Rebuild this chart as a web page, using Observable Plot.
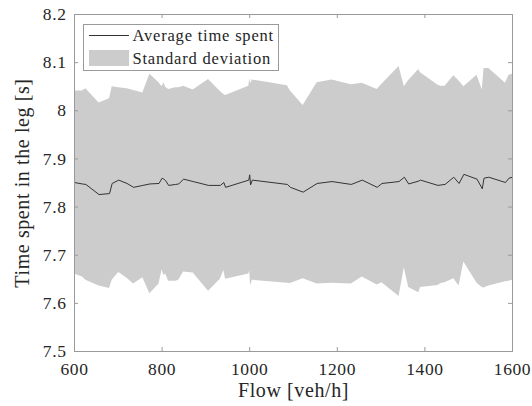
<!DOCTYPE html>
<html>
<head>
<meta charset="utf-8">
<script src="https://cdn.jsdelivr.net/npm/d3@7"></script>
<script src="https://cdn.jsdelivr.net/npm/@observablehq/plot@0.6"></script>
<style>
  html, body { margin: 0; padding: 0; background: #fff; }
  #wrap { position: relative; width: 532px; height: 406px; }
  #chart svg, #chart svg text {
    font-family: "Liberation Serif", "DejaVu Serif", "Noto Serif", "Tinos", "FreeSerif", "Nimbus Roman",
      "Times New Roman", "Noto Serif CJK SC", "Noto Serif CJK JP", serif !important;
  }
  #legend {
    position: absolute; left: 83px; top: 24px; width: 196px; height: 47px;
    box-sizing: border-box; border: 1px solid #9a9a9a; background: #fff;
    font-size: 16.5px; letter-spacing: 0.8px; color: #262626;
  }
  #legend svg { position: absolute; left: 0; top: 0; overflow: visible; }
  #legend svg text {
    font-family: "Liberation Serif", "DejaVu Serif", "Noto Serif", "Tinos", "FreeSerif", "Nimbus Roman",
      "Times New Roman", "Noto Serif CJK SC", "Noto Serif CJK JP", serif;
  }
</style>
</head>
<body>
<div id="wrap">
  <div id="chart"></div>
  <div id="legend"></div>
</div>
<script>
// Traffic flow levels (veh/h) at which the leg was simulated
const flow = [
  600, 618, 626, 656, 680, 686, 701, 720, 735, 756, 772, 793, 800, 804, 808, 815,
  831, 838, 849, 871, 906, 933, 941, 945, 998, 1000, 1002, 1006, 1086, 1093, 1122,
  1154, 1188, 1232, 1257, 1291, 1302, 1341, 1353, 1363, 1386, 1390, 1430, 1437,
  1446, 1466, 1478, 1489, 1519, 1531, 1535, 1546, 1584, 1592, 1600
];
// Average time spent in the leg (s)
const meanTime = [
  7.851, 7.848, 7.847, 7.826, 7.828, 7.849, 7.856, 7.849, 7.841, 7.845, 7.848, 7.849, 7.860, 7.858, 7.855, 7.845,
  7.847, 7.848, 7.858, 7.853, 7.845, 7.845, 7.851, 7.841, 7.856, 7.867, 7.846, 7.856, 7.847, 7.841, 7.831,
  7.849, 7.853, 7.847, 7.856, 7.841, 7.849, 7.853, 7.862, 7.848, 7.854, 7.856, 7.845, 7.846,
  7.847, 7.862, 7.849, 7.868, 7.858, 7.838, 7.860, 7.862, 7.851, 7.860, 7.862
];
// Standard deviation of the time spent (s)
const stdTime = [
  0.190, 0.193, 0.199, 0.190, 0.197, 0.201, 0.192, 0.197, 0.201, 0.192, 0.228, 0.209, 0.190, 0.200, 0.194, 0.199,
  0.201, 0.200, 0.193, 0.190, 0.220, 0.195, 0.183, 0.191, 0.195, 0.200, 0.210, 0.208, 0.205, 0.200, 0.180,
  0.209, 0.211, 0.207, 0.201, 0.203, 0.206, 0.239, 0.188, 0.215, 0.232, 0.223, 0.208, 0.205,
  0.204, 0.211, 0.213, 0.182, 0.216, 0.205, 0.228, 0.226, 0.206, 0.214, 0.214
];

const xTicks = [600, 800, 1000, 1200, 1400, 1600];
const xTickLabels = ["600", "800", "1000", "1200", "1400", "1600"];
const yTicks = [7.5, 7.6, 7.7, 7.8, 7.9, 8.0, 8.1, 8.2];
const yTickLabels = ["7.5", "7.6", "7.7", "7.8", "7.9", "8", "8.1", "8.2"];
const xLabel = "Flow [veh/h]";
const yLabel = "Time spent in the leg [s]";
const seriesNames = ["Average time spent", "Standard deviation"];

const rows = flow.map((f, i) => ({flow: f, mean: meanTime[i], std: stdTime[i]}));

const W = 532, H = 406;
const mL = 74, mR = 20, mT = 14, mB = 55;
const innerW = W - mL - mR, innerH = H - mT - mB;
const tickLen = 4;
const axisGray = "#9a9a9a";
const bandFill = "#cccccc";
const lineColor = "#333333";

const chart = Plot.plot({
  width: W,
  height: H,
  marginLeft: mL,
  marginRight: mR,
  marginTop: mT,
  marginBottom: mB,
  style: {
    fontSize: "17.5px",
    letterSpacing: "0.6px",
    color: "#262626",
    background: "#fff",
    overflow: "visible"
  },
  x: {domain: [600, 1600]},
  y: {domain: [7.5, 8.2]},
  marks: [
    Plot.areaY(rows, {x: "flow", y1: d => d.mean - d.std, y2: d => d.mean + d.std, fill: bandFill}),
    Plot.lineY(rows, {x: "flow", y: "mean", stroke: lineColor, strokeWidth: 1}),
    Plot.frame({stroke: axisGray, strokeWidth: 1}),
    // inward tick marks on all four sides
    Plot.tickX(xTicks, {x: d => d, stroke: axisGray, insetTop: innerH - tickLen}),
    Plot.tickX(xTicks, {x: d => d, stroke: axisGray, insetBottom: innerH - tickLen}),
    Plot.tickY(yTicks, {y: d => d, stroke: axisGray, insetRight: innerW - tickLen}),
    Plot.tickY(yTicks, {y: d => d, stroke: axisGray, insetLeft: innerW - tickLen}),
    Plot.axisX({ticks: xTicks, tickSize: 0, tickPadding: 11, label: null,
      tickFormat: d => xTickLabels[xTicks.indexOf(d)]}),
    Plot.axisY({ticks: yTicks, tickSize: 0, tickPadding: 8, label: null,
      tickFormat: d => yTickLabels[yTicks.indexOf(d)]}),
    Plot.text([xLabel], {text: d => d, frameAnchor: "bottom", textAnchor: "middle", lineAnchor: "middle",
      dy: 39, fontSize: 20}),
    Plot.text([yLabel], {text: d => d, frameAnchor: "left", textAnchor: "middle", lineAnchor: "middle",
      rotate: -90, dx: -52, fontSize: 20})
  ]
});
document.getElementById("chart").appendChild(chart);

// Legend: line swatch for the average, filled patch for the deviation band
const legend = d3.select("#legend");
const lsvg = legend.append("svg").attr("width", 196).attr("height", 47);
lsvg.append("line").attr("x1", 5).attr("x2", 45).attr("y1", 10.5).attr("y2", 10.5)
  .attr("stroke", lineColor).attr("stroke-width", 1);
lsvg.append("rect").attr("x", 5).attr("y", 25).attr("width", 40).attr("height", 16)
  .attr("fill", bandFill);
lsvg.selectAll("text.item").data(seriesNames).join("text")
  .attr("class", "item")
  .attr("x", 48.5)
  .attr("y", (d, i) => i === 0 ? 15.5 : 38.5)
  .attr("fill", "currentColor")
  .text(d => d);
</script>
</body>
</html>
